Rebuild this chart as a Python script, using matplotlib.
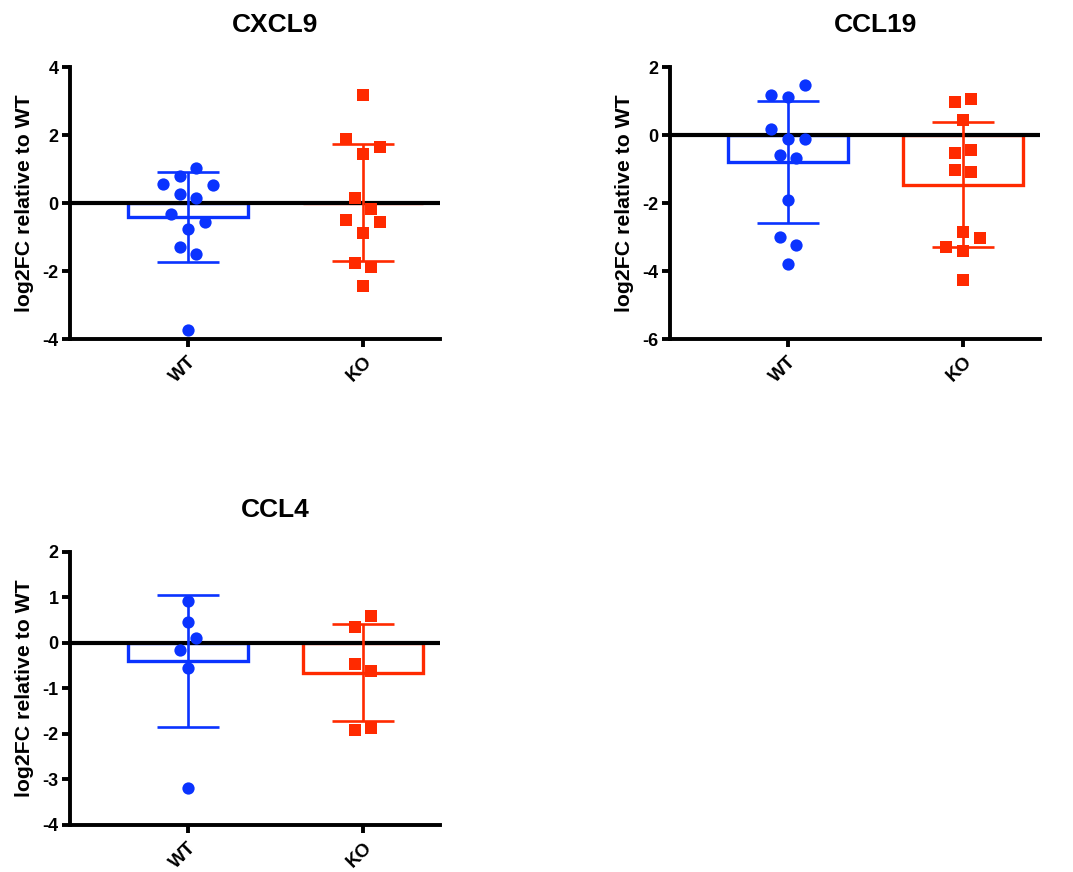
import numpy as np
import matplotlib
matplotlib.use('Agg')
import matplotlib.pyplot as plt

plt.rcParams['font.family'] = ['Liberation Sans', 'DejaVu Sans']
plt.rcParams['font.weight'] = 'bold'
plt.rcParams['axes.unicode_minus'] = False

groups = ['WT', 'KO']
genes = ['CXCL9', 'CCL19', 'CCL4']

# values in the order GraphPad laid them out (row by row, left to right)
cxcl9_wt = [0.79, 1.03, 0.57, 0.26, 0.16, 0.52, -0.33, -0.75, -0.56, -1.29, -1.49, -3.74]
cxcl9_ko = [3.17, 1.89, 1.45, 1.65, 0.15, -0.17, -0.49, -0.87, -0.56, -1.75, -1.88, -2.43]
ccl19_wt = [1.18, 1.13, 1.47, 0.18, -0.13, -0.13, -0.60, -0.67, -1.91, -3.01, -3.22, -3.80]
ccl19_ko = [0.96, 1.05, 0.44, -0.54, -0.44, -1.03, -1.10, -2.85, -3.28, -3.40, -3.04, -4.26]
ccl4_wt = [0.93, 0.46, -0.15, 0.10, -0.54, -3.19]
ccl4_ko = [0.35, 0.59, -0.46, -0.62, -1.92, -1.86]

ylims = [(-4, 4), (-6, 2), (-4, 2)]
yticks = [[-4, -2, 0, 2, 4], [-6, -4, -2, 0, 2], [-4, -3, -2, -1, 0, 1, 2]]

blue = '#0A33FF'
red = '#FF2A00'

fig = plt.figure(figsize=(10.73, 8.72), dpi=100)
positions = [[0.0652, 0.6112, 0.3448, 0.3119],
             [0.6244, 0.6112, 0.3448, 0.3119],
             [0.0652, 0.0539, 0.3448, 0.3131]]


def swarm_offsets(ax, values, xpos):
    # points close on screen form a row, each row is spread sideways
    pts = np.column_stack([np.full(len(values), xpos), values])
    y_px = ax.transData.transform(pts)[:, 1]
    x_unit = ax.transData.transform([(1, 0)])[0, 0] - ax.transData.transform([(0, 0)])[0, 0]
    order = np.argsort(y_px, kind='stable')
    rows = []
    for i in order:
        if rows and y_px[i] - y_px[rows[-1][0]] < 16:
            rows[-1].append(i)
        else:
            rows.append([i])
    offsets = np.zeros(len(values))
    for row in rows:
        row = sorted(row)
        n = len(row)
        for k, i in enumerate(row):
            offsets[i] = (2 * k - (n - 1)) * 8.3 / x_unit
    return offsets


data = [(cxcl9_wt, cxcl9_ko), (ccl19_wt, ccl19_ko), (ccl4_wt, ccl4_ko)]

for gene, (wt, ko), pos, ylim, yt in zip(genes, data, positions, ylims, yticks):
    ax = fig.add_axes(pos)
    ax.set_xlim(-0.674, 1.44)
    ax.set_ylim(*ylim)

    for x, vals, color, marker in [(0, wt, blue, 'o'), (1, ko, red, 's')]:
        vals = np.array(vals)
        mean = vals.mean()
        sd = vals.std(ddof=1)
        ax.bar(x, mean, width=0.686, facecolor='none', edgecolor=color,
               linewidth=2.4, zorder=1)
        ax.errorbar(x, mean, yerr=sd, color=color, elinewidth=1.9,
                    capsize=22.5, capthick=1.9, zorder=3)
        ax.scatter(x + swarm_offsets(ax, vals, x), vals, s=78 if marker == 'o' else 72,
                   marker=marker, color=color, linewidths=0, zorder=4)

    ax.axhline(0, color='black', linewidth=3, zorder=2)

    for side in ['top', 'right']:
        ax.spines[side].set_visible(False)
    for side in ['left', 'bottom']:
        ax.spines[side].set_linewidth(2.8)
        ax.spines[side].set_capstyle('projecting')

    ax.set_yticks(yt)
    ax.set_xticks([0, 1])
    ax.set_xticklabels(groups, rotation=45, ha='right', va='top',
                       rotation_mode='anchor')
    ax.tick_params(axis='both', width=2.8, length=6, labelsize=13, pad=2)
    ax.tick_params(axis='x', pad=4, labelsize=13.5)
    ax.set_ylabel('log2FC relative to WT', fontsize=15.3, fontweight='bold', labelpad=6)
    ax.text(0.5, ylim[1] + (ylim[1] - ylim[0]) * 0.11, gene, fontsize=19,
            fontweight='bold', ha='center', va='bottom')

fig.savefig('out.png', dpi=100)
